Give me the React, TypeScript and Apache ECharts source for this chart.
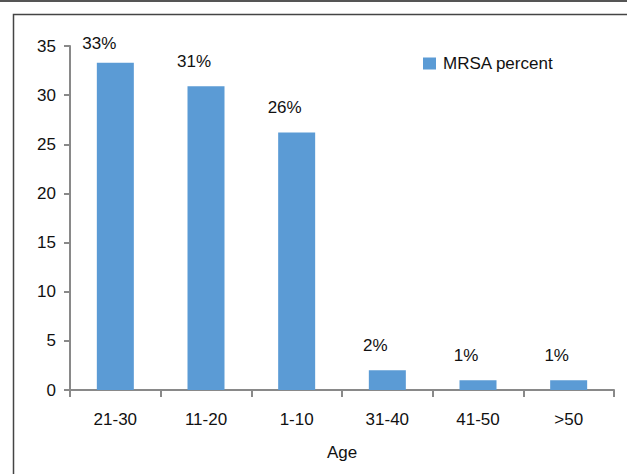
import React, { useEffect, useRef } from "react";
import * as echarts from "echarts";

const categories = ["21-30", "11-20", "1-10", "31-40", "41-50", ">50"];
const mrsaValues = [33.3, 30.9, 26.2, 2.0, 1.0, 1.0];
const dataLabels = ["33%", "31%", "26%", "2%", "1%", "1%"];
const seriesName = "MRSA percent";
const xAxisName = "Age";

const FONT = "'Liberation Sans', Arial, Helvetica, sans-serif";
const FS = 17;

export default function App() {
  const ref = useRef<HTMLDivElement>(null);
  useEffect(() => {
    if (!ref.current) return;
    const chart = echarts.init(ref.current, null, { renderer: "svg" });
    const data = mrsaValues.map((v, i) => ({
      value: v,
      label: {
        formatter: dataLabels[i],
        distance: i === 0 ? 11 : 16,
        offset: [i === 0 ? -16 : -12, 0],
      },
    }));
    chart.setOption({
      animation: false,
      backgroundColor: "#ffffff",
      textStyle: { fontFamily: FONT },
      grid: { left: 70, right: 13, top: 46, bottom: 84, containLabel: false },
      legend: {
        left: 423,
        top: 55,
        padding: 0,
        itemWidth: 13,
        itemHeight: 12,
        itemGap: 6,
        icon: "rect",
        textStyle: { fontSize: FS, color: "#111", fontFamily: FONT, padding: [0, 0, 0, 2] },
        data: [seriesName],
      },
      xAxis: {
        type: "category",
        data: categories,
        name: xAxisName,
        nameLocation: "middle",
        nameGap: 54,
        nameTextStyle: { fontSize: FS, color: "#111", fontFamily: FONT },
        axisLine: { lineStyle: { color: "#898989", width: 2 } },
        axisTick: { show: true, length: 7, lineStyle: { color: "#898989", width: 2 } },
        axisLabel: { margin: 21, fontSize: FS, color: "#111", fontFamily: FONT },
        splitLine: { show: false },
      },
      yAxis: {
        type: "value",
        min: 0,
        max: 35,
        interval: 5,
        axisLine: { show: true, lineStyle: { color: "#898989", width: 2 } },
        axisTick: { show: true, length: 6, lineStyle: { color: "#898989", width: 2 } },
        axisLabel: { margin: 14, fontSize: FS, color: "#111", fontFamily: FONT },
        splitLine: { show: false },
      },
      series: [
        {
          name: seriesName,
          type: "bar",
          barWidth: 37,
          itemStyle: { color: "#5B9BD5" },
          label: {
            show: true,
            position: "top",
            fontSize: FS,
            color: "#111",
            fontFamily: FONT,
          },
          data,
        },
      ],
      graphic: [
        {
          type: "line",
          shape: { x1: 0, y1: 1, x2: 627, y2: 1 },
          style: { stroke: "#555555", lineWidth: 2 },
        },
        {
          type: "polyline",
          shape: { points: [[13.5, 474], [13.5, 14.5], [627, 14.5]] },
          style: { stroke: "#444444", lineWidth: 1.5, fill: null },
        },
      ],
    });
    return () => chart.dispose();
  }, []);
  return (
    <div
      ref={ref}
      style={{ position: "fixed", left: 0, top: 0, width: 627, height: 474 }}
    />
  );
}
